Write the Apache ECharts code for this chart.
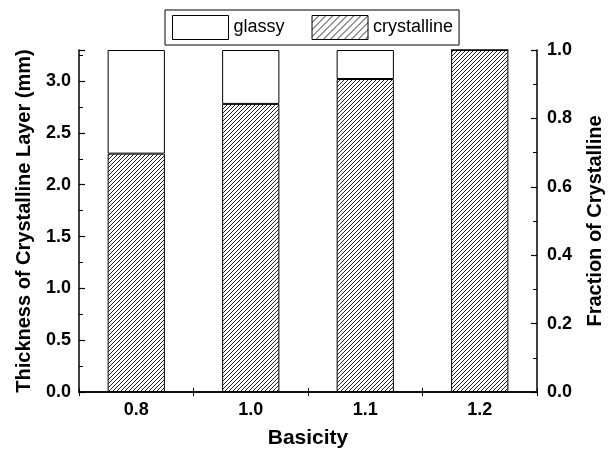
<!DOCTYPE html>
<html>
<head>
<meta charset="utf-8">
<script src="https://cdn.jsdelivr.net/npm/echarts@6/dist/echarts.min.js"></script>
<style>
  html, body { margin: 0; padding: 0; background: #fff; }
  #chart { width: 613px; height: 454px; }
</style>
</head>
<body>
<div id="chart"></div>
<script>
// Basicity categories and layer thickness (mm)
const basicity = ['0.8', '1.0', '1.1', '1.2'];
const crystallineThickness = [2.30, 2.78, 3.02, 3.30];
const glassyThickness = [1.00, 0.52, 0.28, 0.00];
const thicknessTicks = [0.0, 0.5, 1.0, 1.5, 2.0, 2.5, 3.0];
const fractionTicks = [0.0, 0.2, 0.4, 0.6, 0.8, 1.0];

const FONT = 'Liberation Sans';

// Diagonal "/" hatch tile used as a repeating fill
function hatch(size, width, color) {
  const c = document.createElement('canvas');
  c.width = size; c.height = size;
  const g = c.getContext('2d');
  g.fillStyle = '#fff';
  g.fillRect(0, 0, size, size);
  g.strokeStyle = color;
  g.lineWidth = width;
  for (let i = -1; i <= 1; i++) {
    g.beginPath();
    g.moveTo(i * size, size);
    g.lineTo(i * size + size, 0);
    g.stroke();
  }
  return { image: c, repeat: 'repeat' };
}

const barHatch = hatch(4, 1, '#222');
const legendHatch = hatch(7, 1, '#222');

const chart = echarts.init(document.getElementById('chart'), null, { renderer: 'canvas' });

const tickLabel = { color: '#000', fontFamily: FONT, fontWeight: 'bold', fontSize: 18 };
const titleStyle = { color: '#000', fontFamily: FONT, fontWeight: 'bold', fontSize: 20 };
const axisLine = { show: true, lineStyle: { color: '#000', width: 1.5 } };

chart.setOption({
  animation: false,
  backgroundColor: '#fff',
  grid: { left: 79, right: 70, top: 50, bottom: 58, containLabel: false },
  legend: {
    left: 165, top: 10,
    orient: 'horizontal',
    borderColor: '#000', borderWidth: 1,
    padding: [5, 6, 5, 7],
    itemWidth: 56, itemHeight: 24, itemGap: 27,
    icon: 'rect',
    textStyle: { color: '#000', fontFamily: FONT, fontSize: 18 },
    data: [
      { name: 'glassy', itemStyle: { color: '#fff', borderColor: '#000', borderWidth: 1 } },
      { name: 'crystalline', itemStyle: { color: legendHatch, borderColor: '#000', borderWidth: 1 } }
    ]
  },
  xAxis: [
    {
      type: 'category', data: basicity, position: 'bottom',
      name: 'Basicity', nameLocation: 'middle', nameGap: 36,
      nameTextStyle: Object.assign({}, titleStyle, { fontSize: 21 }),
      axisLine: axisLine,
      axisTick: { show: true, inside: true, length: 4, lineStyle: { color: '#000' } },
      axisLabel: Object.assign({ margin: 9 }, tickLabel),
      splitLine: { show: false }
    },
    {
      type: 'category', data: basicity, position: 'top',
      axisLine: axisLine,
      axisTick: { show: true, inside: true, length: 4, lineStyle: { color: '#000' } },
      axisLabel: { show: false },
      splitLine: { show: false }
    }
  ],
  yAxis: [
    {
      type: 'value', position: 'left', min: 0, max: 3.3, interval: 0.5,
      name: 'Thickness of Crystalline Layer (mm)', nameLocation: 'middle', nameGap: 45,
      nameTextStyle: titleStyle,
      axisLine: axisLine,
      axisTick: { show: true, inside: true, length: 6, lineStyle: { color: '#000', width: 1.2 } },
      axisLabel: Object.assign({
        margin: 8,
        formatter: v => thicknessTicks.some(t => Math.abs(t - v) < 1e-6) ? v.toFixed(1) : ''
      }, tickLabel),
      splitLine: { show: false }
    },
    {
      type: 'value', position: 'right', min: 0, max: 1, interval: 0.2,
      name: 'Fraction of Crystalline', nameLocation: 'middle', nameGap: 48,
      nameRotate: 90,
      nameTextStyle: titleStyle,
      axisLine: axisLine,
      axisTick: { show: true, inside: true, length: 6, lineStyle: { color: '#000', width: 1.2 } },
      minorTick: { show: true, splitNumber: 2, length: 4, lineStyle: { color: '#000' } },
      axisLabel: Object.assign({
        margin: 10,
        formatter: v => fractionTicks.some(t => Math.abs(t - v) < 1e-6) ? v.toFixed(1) : ''
      }, tickLabel),
      splitLine: { show: false }
    },
    {
      // quarter-millimetre minor ticks on the left axis
      type: 'value', position: 'left', min: 0, max: 3.3, interval: 0.25,
      axisLine: { show: false },
      axisTick: { show: true, inside: true, length: 4, lineStyle: { color: '#000' } },
      axisLabel: { show: false },
      splitLine: { show: false }
    }
  ],
  series: [
    {
      name: 'crystalline', type: 'bar', stack: 'layer', xAxisIndex: 0, yAxisIndex: 0,
      barWidth: '50%',
      data: crystallineThickness,
      itemStyle: { color: barHatch, borderColor: '#000', borderWidth: 1 }
    },
    {
      name: 'glassy', type: 'bar', stack: 'layer', xAxisIndex: 0, yAxisIndex: 0,
      barWidth: '50%',
      data: glassyThickness,
      itemStyle: { color: '#fff', borderColor: '#000', borderWidth: 1 }
    }
  ]
});
</script>
</body>
</html>
